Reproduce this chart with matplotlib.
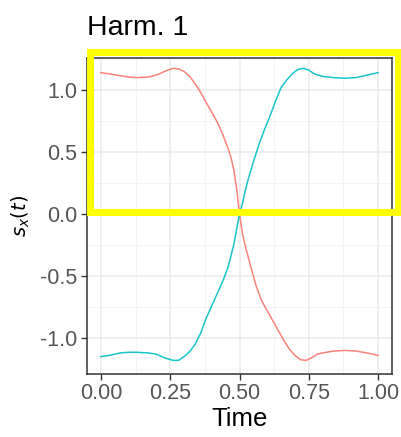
import matplotlib
matplotlib.use("Agg")
import matplotlib.pyplot as plt
from matplotlib.patches import Rectangle
from matplotlib.ticker import MultipleLocator

plt.rcParams['font.family'] = ['Liberation Sans', 'DejaVu Sans']

# values
t_red = [0, 0.03, 0.07, 0.1, 0.13, 0.17, 0.2, 0.23, 0.26, 0.28, 0.3, 0.32, 0.34,
         0.36, 0.38, 0.4, 0.42, 0.44, 0.46, 0.47, 0.48, 0.49, 0.5, 0.51, 0.52,
         0.54, 0.56, 0.58, 0.6, 0.62, 0.64, 0.66, 0.68, 0.7, 0.72, 0.74, 0.76,
         0.78, 0.8, 0.84, 0.88, 0.92, 0.96, 1.0]
red_vals = [1.14, 1.13, 1.115, 1.105, 1.10, 1.105, 1.12, 1.15, 1.175, 1.17, 1.15,
            1.11, 1.05, 0.98, 0.90, 0.82, 0.74, 0.64, 0.52, 0.45, 0.35, 0.2, 0.0,
            -0.15, -0.25, -0.42, -0.58, -0.70, -0.78, -0.86, -0.94, -1.02, -1.09,
            -1.14, -1.175, -1.18, -1.16, -1.13, -1.12, -1.105, -1.10, -1.105,
            -1.12, -1.14]
t_cyan = [0, 0.03, 0.07, 0.1, 0.13, 0.17, 0.2, 0.23, 0.26, 0.28, 0.3, 0.32, 0.34,
          0.36, 0.38, 0.4, 0.42, 0.44, 0.46, 0.48, 0.49, 0.5, 0.51, 0.52, 0.53,
          0.55, 0.57, 0.59, 0.61, 0.63, 0.65, 0.67, 0.69, 0.71, 0.73, 0.75, 0.77,
          0.8, 0.84, 0.88, 0.92, 0.96, 1.0]
cyan_vals = [-1.15, -1.14, -1.12, -1.115, -1.115, -1.12, -1.13, -1.16, -1.18,
             -1.18, -1.15, -1.11, -1.05, -0.96, -0.84, -0.74, -0.64, -0.54, -0.42,
             -0.24, -0.12, 0.0, 0.08, 0.18, 0.27, 0.42, 0.56, 0.68, 0.79, 0.91,
             1.02, 1.08, 1.13, 1.165, 1.175, 1.16, 1.13, 1.11, 1.10, 1.095, 1.10,
             1.12, 1.14]
xticks = [0, 0.25, 0.5, 0.75, 1.0]
xtick_labels = ['0.00', '0.25', '0.50', '0.75', '1.00']
yticks = [-1.0, -0.5, 0.0, 0.5, 1.0]
ytick_labels = ['-1.0', '-0.5', '0.0', '0.5', '1.0']

W, H = 401, 437
fig = plt.figure(figsize=(W / 100, H / 100), dpi=100)
ax = fig.add_axes([87 / W, 1 - 373.5 / H, (392 - 87) / W, (373.5 - 58) / H])

ax.plot(t_red, red_vals, color='#F8766D', lw=1.1, alpha=0.9)
ax.plot(t_cyan, cyan_vals, color='#00BFC4', lw=1.1, alpha=0.9)

ax.set_xlim(-0.05, 1.05)
ax.set_ylim(-1.286, 1.258)
ax.set_xticks(xticks)
ax.set_xticklabels(xtick_labels)
ax.set_yticks(yticks)
ax.set_yticklabels(ytick_labels)
ax.xaxis.set_minor_locator(MultipleLocator(0.125))
ax.yaxis.set_minor_locator(MultipleLocator(0.25))
ax.grid(which='major', color='#EBEBEB', lw=1.1)
ax.grid(which='minor', color='#F2F2F2', lw=0.6)
ax.set_axisbelow(True)
ax.tick_params(which='major', length=4, width=1, color='#333333',
               labelsize=15.5, labelcolor='#555555', pad=3)
ax.tick_params(which='minor', length=0)
for s in ax.spines.values():
    s.set_color('#333333')
    s.set_linewidth(1.1)

ax.set_xlabel('Time', fontsize=18.5, labelpad=2)
ax.set_ylabel('$s_x(t)$', fontsize=14, labelpad=6)

fig.text(87 / W, 1 - 35 / H, 'Harm. 1', fontsize=20.5, ha='left', va='baseline')

# yellow highlight box
fig.add_artist(Rectangle((90 / W, 1 - 212 / H), (398 - 90) / W, (212 - 51.5) / H,
                         transform=fig.transFigure, fill=False,
                         edgecolor='#FFFF00', lw=5, clip_on=False))

fig.savefig('out.png', dpi=100)
